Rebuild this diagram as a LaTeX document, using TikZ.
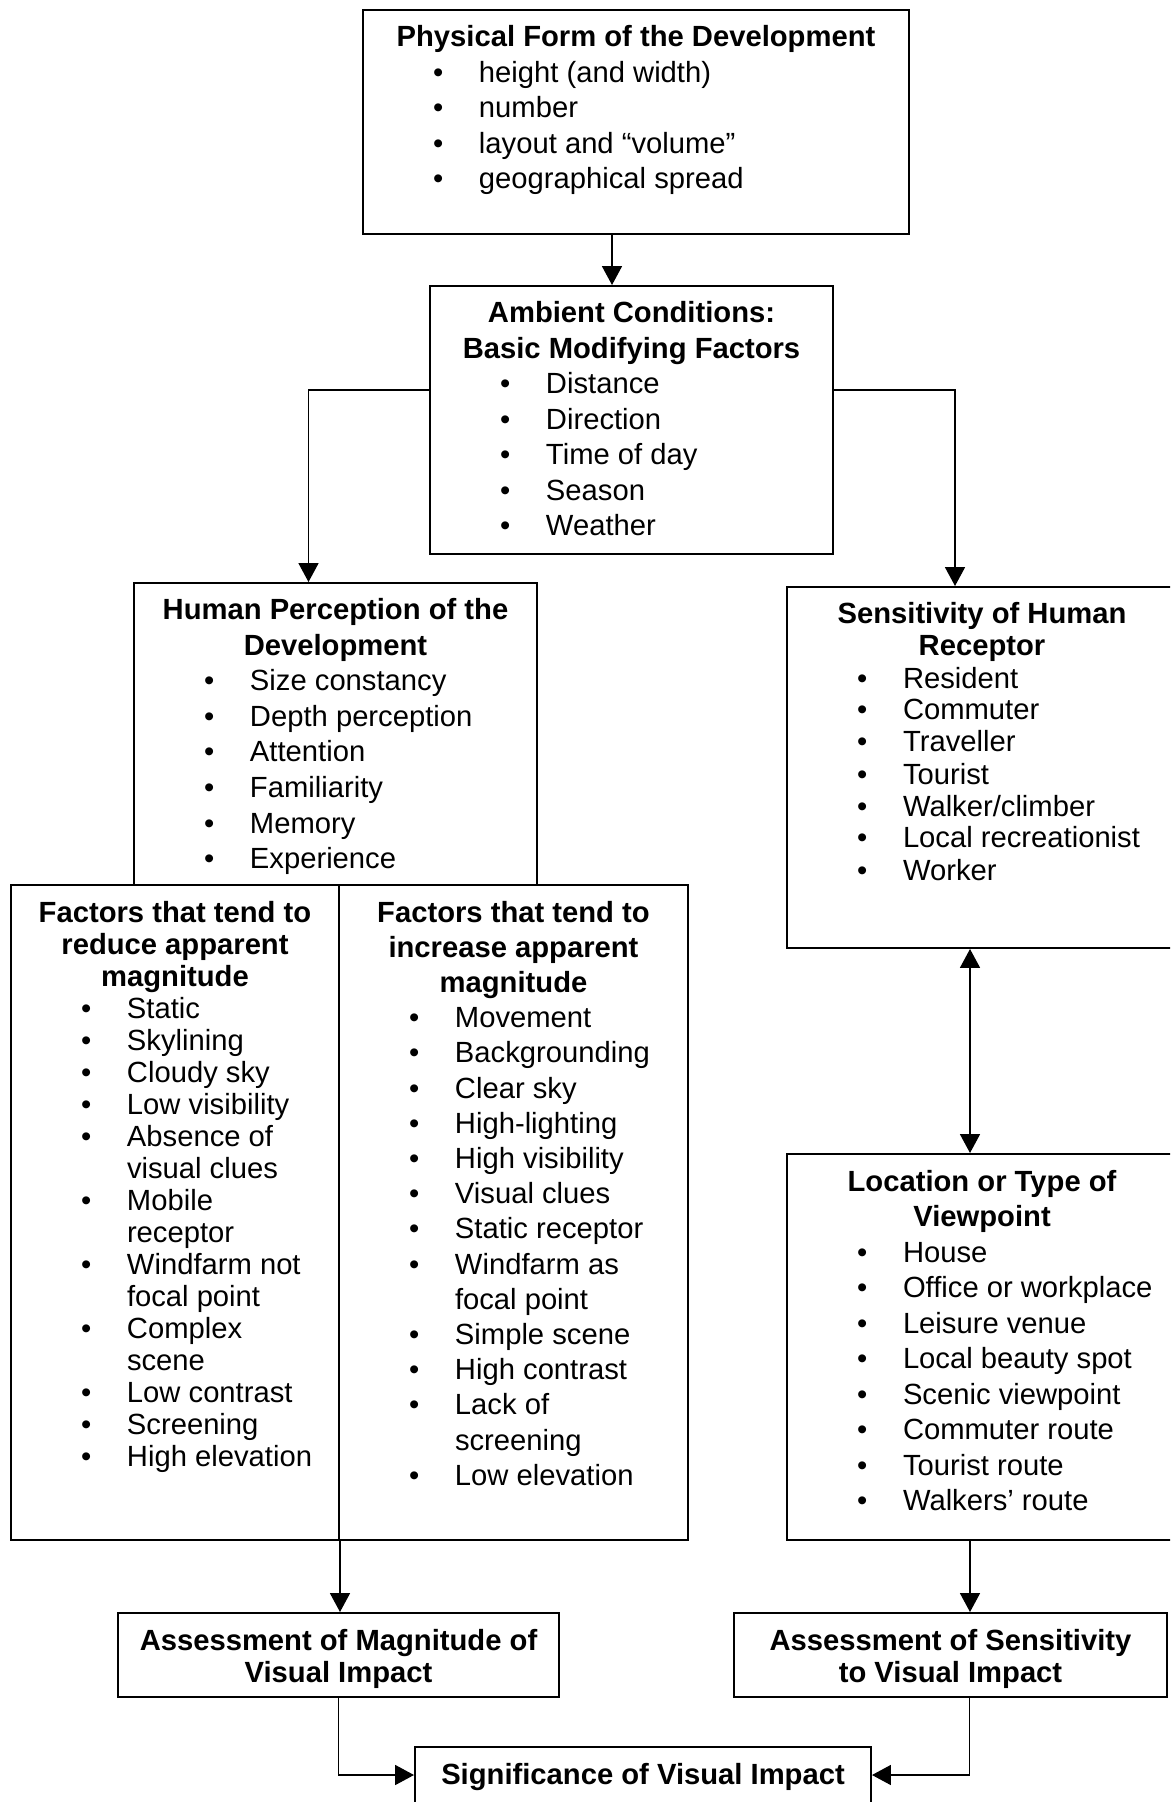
\documentclass[tikz,border=0pt]{standalone}
\usepackage{fontspec}
\setmainfont{Liberation Sans}
\usetikzlibrary{arrows.meta,positioning}

% one pixel of the original figure
\newlength{\px}
\setlength{\px}{0.35pt}

% box text: width, height, line spacing, contents
\newcommand{\boxtext}[4]{%
  \parbox[t][#2\px][t]{#1\px}{\fontsize{29.2\px}{#3\px}\selectfont\raggedright
    \vspace*{\dimexpr37\px-\ht\strutbox\relax}#4}}
\newcommand{\head}[1]{{\centering\bfseries\strut#1\par}}
\newcommand{\bul}[1]{{\leftskip=116\px\noindent\llap{\makebox[46\px][l]{•}}#1\par}}

\begin{document}
\begin{tikzpicture}[x=0.35pt, y=-0.35pt]
  % Define styles
  \tikzstyle{block} = [rectangle, draw, line width=0.7pt, inner sep=0pt, anchor=north west]
  \tikzstyle{line} = [draw, line width=0.45pt, -{Triangle[length=6.6pt, width=7pt]}]
  \tikzstyle{biline} = [draw, line width=0.45pt, {Triangle[length=6.6pt, width=7pt]}-{Triangle[length=6.6pt, width=7pt]}]

  \clip (0,0) rectangle (1170,1802);

  % Place nodes
  \node [block] (form) at (362,9) {\boxtext{546}{224}{35.5}{%
    \head{Physical Form of the Development}
    \bul{height (and width)}
    \bul{number}
    \bul{layout and “volume”}
    \bul{geographical spread}}};
  \node [block] (ambient) at (429,285) {\boxtext{403}{268}{35.5}{%
    \head{Ambient Conditions:\\Basic Modifying Factors}
    \bul{Distance}
    \bul{Direction}
    \bul{Time of day}
    \bul{Season}
    \bul{Weather}}};
  \node [block] (perception) at (133,582) {\boxtext{403}{302}{35.5}{%
    \head{Human Perception of the\\Development}
    \bul{Size constancy}
    \bul{Depth perception}
    \bul{Attention}
    \bul{Familiarity}
    \bul{Memory}
    \bul{Experience}}};
  \node [block] (receptor) at (786,586) {\boxtext{390}{361}{32}{%
    \head{Sensitivity of Human\\Receptor}
    \bul{Resident}
    \bul{Commuter}
    \bul{Traveller}
    \bul{Tourist}
    \bul{Walker/climber}
    \bul{Local recreationist}
    \bul{Worker}}};
  \node [block] (reduce) at (10,884) {\boxtext{328}{655}{32}{%
    \head{Factors that tend to\\reduce apparent\\magnitude}
    \bul{Static}
    \bul{Skylining}
    \bul{Cloudy sky}
    \bul{Low visibility}
    \bul{Absence of\\visual clues}
    \bul{Mobile\\receptor}
    \bul{Windfarm not\\focal point}
    \bul{Complex\\scene}
    \bul{Low contrast}
    \bul{Screening}
    \bul{High elevation}}};
  \node [block] (increase) at (338,884) {\boxtext{349}{655}{35.2}{%
    \head{Factors that tend to\\increase apparent\\magnitude}
    \bul{Movement}
    \bul{Backgrounding}
    \bul{Clear sky}
    \bul{High-lighting}
    \bul{High visibility}
    \bul{Visual clues}
    \bul{Static receptor}
    \bul{Windfarm as\\focal point}
    \bul{Simple scene}
    \bul{High contrast}
    \bul{Lack of\\screening}
    \bul{Low elevation}}};
  \node [block] (viewpoint) at (786,1153) {\boxtext{390}{386}{35.5}{%
    \head{Location or Type of\\Viewpoint}
    \bul{House}
    \bul{Office or workplace}
    \bul{Leisure venue}
    \bul{Local beauty spot}
    \bul{Scenic viewpoint}
    \bul{Commuter route}
    \bul{Tourist route}
    \bul{Walkers’ route}}};
  \node [block] (magnitude) at (117,1612) {\boxtext{441}{84}{32}{%
    \head{Assessment of Magnitude of\\Visual Impact}}};
  \node [block] (sensitivity) at (733,1612) {\boxtext{433}{84}{32}{%
    \head{Assessment of Sensitivity\\to Visual Impact}}};
  \node [block] (significance) at (414,1746) {\boxtext{456}{100}{32}{%
    \head{Significance of Visual Impact}}};

  % Draw edges
  \path [line] ([xshift=-24\px]form.south) -- ([xshift=-24\px]form.south |- ambient.north);
  \path [line] ([yshift=-105\px]ambient.north west) -| ([xshift=-27\px]perception.north);
  \path [line] ([yshift=-105\px]ambient.north east) -| ([xshift=-27\px]receptor.north);
  \path [biline] ([xshift=-12\px]receptor.south) -- ([xshift=-12\px]viewpoint.north);
  \path [line] (reduce.south east) -- (reduce.south east |- magnitude.north);
  \path [line] ([xshift=-12\px]viewpoint.south) -- ([xshift=-12\px]viewpoint.south |- sensitivity.north);
  \path [line] (magnitude.south) |- ([yshift=-29\px]significance.north west);
  \path [line] ([xshift=19\px]sensitivity.south) |- ([yshift=-29\px]significance.north east);
\end{tikzpicture}
\end{document}
